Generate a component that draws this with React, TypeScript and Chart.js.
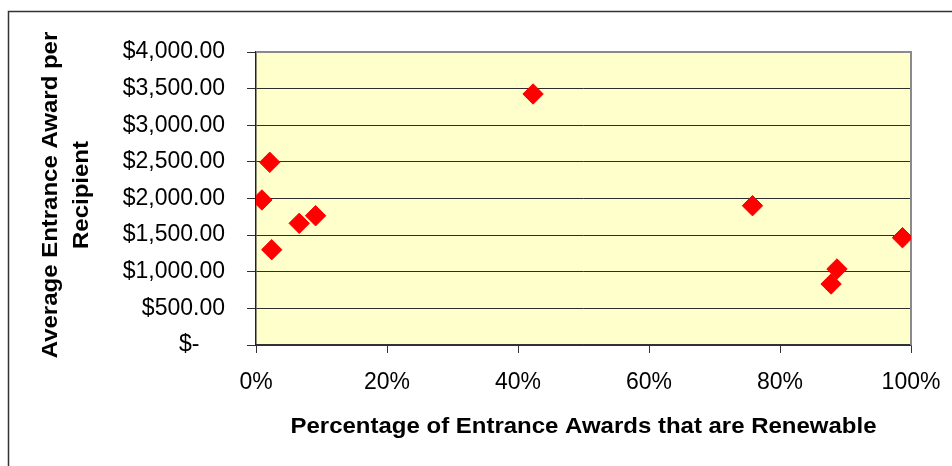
import React, { useEffect, useRef } from "react";
import { Chart, registerables } from "chart.js";

Chart.register(...registerables);

// Percentage of entrance awards that are renewable (fraction)
const renewableShare: number[] = [0.021, 0.009, 0.066, 0.091, 0.024, 0.423, 0.758, 0.987, 0.887, 0.878];
// Average entrance award per recipient ($)
const avgAward: number[] = [2494, 1980, 1661, 1765, 1301, 3427, 1902, 1465, 1038, 833];

const xTitle = "Percentage of Entrance Awards that are Renewable";
const yTitleLines: string[] = ["Average Entrance Award per", "Recipient"];

const FONT = "'Liberation Sans', Arial, Helvetica, sans-serif";

function fmtMoney(v: number): string {
  if (v === 0) return "$-    ";
  return "$" + v.toLocaleString("en-US", { minimumFractionDigits: 2, maximumFractionDigits: 2 });
}

const decorPlugin = {
  id: "decor",
  beforeDraw(chart: any) {
    const { ctx, chartArea } = chart;
    ctx.save();
    ctx.fillStyle = "#FFFFFF";
    ctx.fillRect(0, 0, chart.width, chart.height);
    // outer frame
    ctx.strokeStyle = "#333333";
    ctx.lineWidth = 1.5;
    ctx.beginPath();
    ctx.moveTo(8.5, chart.height + 2);
    ctx.lineTo(8.5, 11.5);
    ctx.lineTo(chart.width + 2, 11.5);
    ctx.stroke();
    // plot background
    ctx.fillStyle = "#FFFFCC";
    ctx.fillRect(chartArea.left, chartArea.top, chartArea.right - chartArea.left, chartArea.bottom - chartArea.top);
    ctx.restore();
  },
  beforeDatasetsDraw(chart: any) {
    const { ctx, chartArea } = chart;
    ctx.save();
    ctx.strokeStyle = "#8a8a8a";
    ctx.lineWidth = 2;
    ctx.beginPath();
    ctx.moveTo(chartArea.left, chartArea.top);
    ctx.lineTo(chartArea.right, chartArea.top);
    ctx.lineTo(chartArea.right, chartArea.bottom);
    ctx.stroke();
    ctx.restore();
  },
  afterDraw(chart: any) {
    const { ctx, chartArea } = chart;
    ctx.save();
    ctx.fillStyle = "#000000";
    ctx.font = `bold 22px ${FONT}`;
    ctx.textAlign = "center";
    ctx.textBaseline = "alphabetic";
    // x title
    const cx = (chartArea.left + chartArea.right) / 2;
    ctx.save();
    ctx.translate(cx, 433);
    ctx.scale(1.09, 1);
    ctx.fillText(xTitle, 0, 0);
    ctx.restore();
    // y title
    const cy = 195;
    const baselines = [57, 88];
    yTitleLines.forEach((line, i) => {
      ctx.save();
      ctx.translate(baselines[i], cy);
      ctx.rotate(-Math.PI / 2);
      ctx.scale(1.09, 1);
      ctx.fillText(line, 0, 0);
      ctx.restore();
    });
    ctx.restore();
  },
};

export default function App() {
  const canvasRef = useRef<HTMLCanvasElement | null>(null);

  useEffect(() => {
    if (!canvasRef.current) return;
    const points = renewableShare.map((x, i) => ({ x, y: avgAward[i] }));
    const chart = new Chart(canvasRef.current, {
      type: "scatter",
      data: {
        datasets: [
          {
            data: points,
            pointStyle: "rectRot",
            pointRadius: 10.2,
            pointHoverRadius: 10.2,
            backgroundColor: "#FF0000",
            borderColor: "#FF0000",
            borderWidth: 1,
          },
        ],
      },
      options: {
        responsive: false,
        animation: false,
        events: [],
        layout: { padding: { top: 52, right: 41, left: 0, bottom: 0 } },
        plugins: {
          legend: { display: false },
          tooltip: { enabled: false },
          title: { display: false },
        },
        scales: {
          x: {
            type: "linear",
            min: 0,
            max: 1,
            afterFit(scale: any) {
              scale.height = 121;
              scale.paddingLeft = 0;
              scale.paddingRight = 0;
            },
            ticks: {
              stepSize: 0.2,
              color: "#000000",
              font: { family: FONT, size: 23 },
              padding: 16,
              maxRotation: 0,
              callback: (v: any) => Math.round(Number(v) * 100) + "%",
            },
            grid: {
              drawOnChartArea: false,
              drawTicks: true,
              tickLength: 8,
              color: "#333333",
              lineWidth: 1,
            },
            border: { display: true, color: "#333333", width: 1.5 },
          },
          y: {
            type: "linear",
            min: 0,
            max: 4000,
            afterFit(scale: any) {
              scale.width = 256;
              scale.paddingTop = 0;
              scale.paddingBottom = 0;
            },
            ticks: {
              stepSize: 500,
              color: "#000000",
              font: { family: FONT, size: 23 },
              padding: 22,
              callback: (v: any) => fmtMoney(Number(v)),
            },
            grid: {
              drawOnChartArea: true,
              drawTicks: true,
              tickLength: 9,
              color: "#2e2e2e",
              lineWidth: 1,
            },
            border: { display: true, color: "#222222", width: 1.5 },
          },
        },
      },
      plugins: [decorPlugin],
    });
    return () => chart.destroy();
  }, []);

  return (
    <div style={{ position: "fixed", left: 0, top: 0, width: 952, height: 466, background: "#fff" }}>
      <canvas ref={canvasRef} width={952} height={466} style={{ display: "block" }} />
    </div>
  );
}
